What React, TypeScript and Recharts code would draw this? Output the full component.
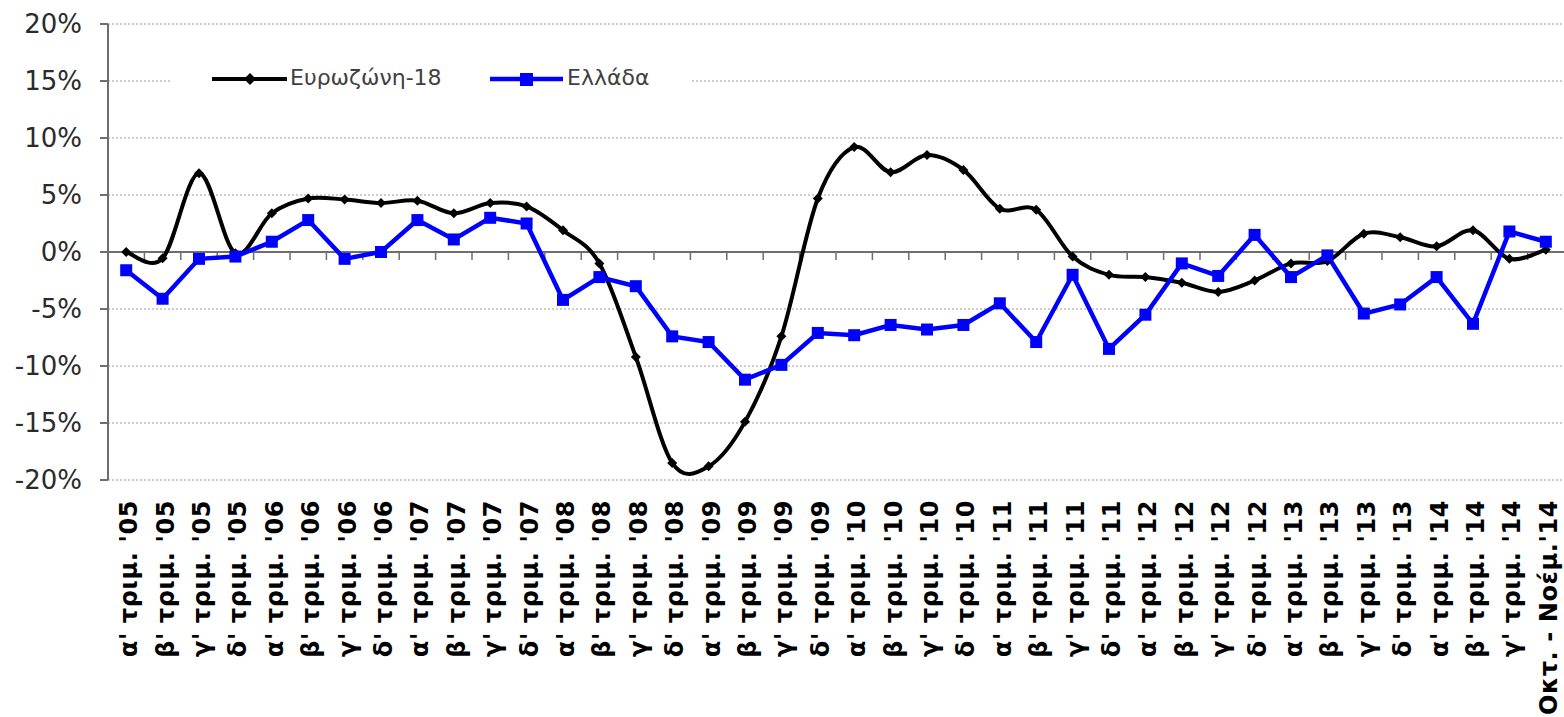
import { LineChart, Line, XAxis, YAxis, CartesianGrid, ReferenceLine } from 'recharts';

// categories (quarters)
const quarters = [
  "α' τριμ. '05", "β' τριμ. '05", "γ' τριμ. '05", "δ' τριμ. '05",
  "α' τριμ. '06", "β' τριμ. '06", "γ' τριμ. '06", "δ' τριμ. '06",
  "α' τριμ. '07", "β' τριμ. '07", "γ' τριμ. '07", "δ' τριμ. '07",
  "α' τριμ. '08", "β' τριμ. '08", "γ' τριμ. '08", "δ' τριμ. '08",
  "α' τριμ. '09", "β' τριμ. '09", "γ' τριμ. '09", "δ' τριμ. '09",
  "α' τριμ. '10", "β' τριμ. '10", "γ' τριμ. '10", "δ' τριμ. '10",
  "α' τριμ. '11", "β' τριμ. '11", "γ' τριμ. '11", "δ' τριμ. '11",
  "α' τριμ. '12", "β' τριμ. '12", "γ' τριμ. '12", "δ' τριμ. '12",
  "α' τριμ. '13", "β' τριμ. '13", "γ' τριμ. '13", "δ' τριμ. '13",
  "α' τριμ. '14", "β' τριμ. '14", "γ' τριμ. '14", "Οκτ. - Νοέμ.'14",
];

// Ευρωζώνη-18, % change
const eurozone = [
  0.0, -0.55, 6.9, -0.1, 3.4, 4.7, 4.6, 4.3, 4.5, 3.4,
  4.3, 4.0, 1.9, -1.0, -9.2, -18.5, -18.8, -14.9, -7.4, 4.7,
  9.2, 7.0, 8.5, 7.2, 3.8, 3.7, -0.4, -2.0, -2.2, -2.7,
  -3.5, -2.5, -1.0, -0.8, 1.6, 1.3, 0.5, 1.9, -0.6, 0.2,
];

// Ελλάδα, % change
const greece = [
  -1.6, -4.1, -0.6, -0.4, 0.9, 2.8, -0.6, 0.0, 2.8, 1.1,
  3.0, 2.5, -4.2, -2.2, -3.0, -7.4, -7.9, -11.2, -9.9, -7.1,
  -7.3, -6.4, -6.8, -6.4, -4.5, -7.9, -2.0, -8.5, -5.5, -1.0,
  -2.1, 1.5, -2.2, -0.3, -5.4, -4.6, -2.2, -6.3, 1.8, 0.9,
];

const yTicks = [-20, -15, -10, -5, 0, 5, 10, 15, 20];

const data = quarters.map((q, i) => ({ q, ez: eurozone[i], gr: greece[i] }));

// Excel-style smoothed line (Catmull-Rom bezier)
const smoothCurve = (context: any) => {
  let pts: [number, number][] = [];
  return {
    areaStart() {},
    areaEnd() {},
    lineStart() {
      pts = [];
    },
    lineEnd() {
      if (!pts.length) return;
      context.moveTo(pts[0][0], pts[0][1]);
      for (let i = 0; i < pts.length - 1; i++) {
        const p0 = pts[Math.max(i - 1, 0)];
        const p1 = pts[i];
        const p2 = pts[i + 1];
        const p3 = pts[Math.min(i + 2, pts.length - 1)];
        context.bezierCurveTo(
          p1[0] + (p2[0] - p0[0]) / 6,
          p1[1] + (p2[1] - p0[1]) / 6,
          p2[0] - (p3[0] - p1[0]) / 6,
          p2[1] - (p3[1] - p1[1]) / 6,
          p2[0],
          p2[1]
        );
      }
    },
    point(x: number, y: number) {
      pts.push([x, y]);
    },
  };
};

const Diamond = ({ cx, cy, index }: any) => (
  <polygon
    key={`d-${index}`}
    points={`${cx},${cy - 5} ${cx + 5},${cy} ${cx},${cy + 5} ${cx - 5},${cy}`}
    fill="#000"
  />
);

const Square = ({ cx, cy, index }: any) => (
  <rect key={`s-${index}`} x={cx - 6} y={cy - 6} width={12} height={12} fill="#0000ff" />
);

const XTick = ({ x, y, payload }: any) => (
  <g transform={`translate(${x + 11},${y + 20})`}>
    <text
      transform="rotate(-90)"
      textAnchor="end"
      fontFamily="DejaVu Sans"
      fontWeight="bold"
      fontSize={24}
      letterSpacing={0.6}
      fill="#000"
    >
      {payload.value}
    </text>
  </g>
);

const axisGray = '#6e6e6e';

export default function App() {
  return (
    <div style={{ position: 'absolute', left: 0, top: 0, width: 1564, height: 717, background: '#fff' }}>
      <LineChart width={1564} height={717} data={data} margin={{ top: 24, right: 0, left: 0, bottom: 0 }}>
        <CartesianGrid vertical={false} stroke="#bdbdbd" strokeDasharray="2 2" strokeWidth={1.5} />
        <XAxis
          dataKey="q"
          scale="band"
          interval={0}
          axisLine={false}
          tickLine={false}
          tickSize={0}
          tickMargin={0}
          height={237}
          tick={<XTick />}
        />
        <YAxis
          domain={[-20, 20]}
          ticks={yTicks}
          interval={0}
          width={108}
          tickFormatter={(v: number) => `${v}%`}
          axisLine={{ stroke: axisGray, strokeWidth: 2 }}
          tickLine={{ stroke: axisGray, strokeWidth: 2 }}
          tickSize={8}
          tickMargin={18}
          tick={{ fill: '#2b2b2b', fontSize: 26, fontFamily: 'DejaVu Sans' }}
        />
        <ReferenceLine y={0} stroke={axisGray} strokeWidth={2} />
        {quarters.map((q) => (
          <ReferenceLine
            key={`t-${q}`}
            position="start"
            segment={[{ x: q, y: 0 }, { x: q, y: -0.7 }]}
            stroke={axisGray}
            strokeWidth={1.5}
          />
        ))}
        <Line
          dataKey="ez"
          type={smoothCurve as any}
          stroke="#000"
          strokeWidth={4}
          dot={<Diamond />}
          isAnimationActive={false}
        />
        <Line
          dataKey="gr"
          type="linear"
          stroke="#0000ff"
          strokeWidth={4.5}
          dot={<Square />}
          isAnimationActive={false}
        />
      </LineChart>
      <div
        style={{
          position: 'absolute',
          left: 170,
          top: 63,
          width: 520,
          height: 34,
          background: '#fff',
          fontFamily: 'DejaVu Sans',
          fontSize: 22,
          color: '#404040',
        }}
      >
        <svg width={520} height={34} style={{ position: 'absolute', left: 0, top: 0 }}>
          <line x1={42} y1={16} x2={117} y2={16} stroke="#000" strokeWidth={4} />
          <polygon points="80,10 86,16 80,22 74,16" fill="#000" />
          <line x1={320} y1={16} x2={393} y2={16} stroke="#0000ff" strokeWidth={4.5} />
          <rect x={350} y={10} width={13} height={13} fill="#0000ff" />
        </svg>
        <span style={{ position: 'absolute', left: 120, top: 2, whiteSpace: 'nowrap' }}>Ευρωζώνη-18</span>
        <span style={{ position: 'absolute', left: 397, top: 2, whiteSpace: 'nowrap' }}>Ελλάδα</span>
      </div>
    </div>
  );
}
